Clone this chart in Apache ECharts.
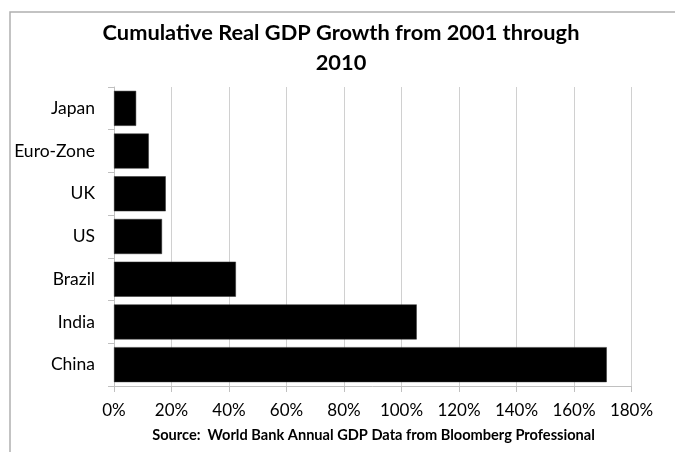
<!DOCTYPE html>
<html><head><meta charset="utf-8">
<script src="https://cdn.jsdelivr.net/npm/echarts@6/dist/echarts.min.js"></script>
<style>html,body{margin:0;padding:0;background:#fff}#c{width:675px;height:452px}</style>
</head><body><div id="c"></div>
<script>
const categories = ["Japan", "Euro-Zone", "UK", "US", "Brazil", "India", "China"];
const growth = [7.7, 12.1, 18.0, 16.7, 42.4, 105.3, 171.4];
const xTicks = [0, 20, 40, 60, 80, 100, 120, 140, 160, 180];
const titleText = "Cumulative Real GDP Growth from 2001 through\n2010";
const sourceText = "Source:  World Bank Annual GDP Data from Bloomberg Professional";

const chart = echarts.init(document.getElementById('c'), null, {renderer: 'canvas'});
const font = 'Lato, "Open Sans", sans-serif';
chart.setOption({
  animation: false,
  backgroundColor: '#fff',
  title: {
    text: titleText, left: 336, top: 13, textAlign: 'center',
    textStyle: {fontFamily: font, fontWeight: 'bold', fontSize: 21.8, color: '#000', lineHeight: 30}
  },
  graphic: [
    {type: 'rect', shape: {x: 10, y: 12, width: 700, height: 460}, style: {fill: 'none', stroke: '#b0b0b0', lineWidth: 1.5}, silent: true},
    {type: 'text', x: 373.5, y: 435, style: {text: sourceText, font: 'bold 14.6px ' + font, fill: '#000', align: 'center', verticalAlign: 'middle'}}
  ],
  grid: {left: 114, right: 43.5, top: 87, bottom: 66},
  xAxis: {
    type: 'value', min: xTicks[0], max: xTicks[xTicks.length - 1], interval: 20,
    axisLine: {show: true, lineStyle: {color: '#c0c0c0', width: 1}},
    axisTick: {show: true, length: 6, lineStyle: {color: '#c0c0c0'}},
    splitLine: {show: true, lineStyle: {color: '#d0d0d0', width: 1}},
    axisLabel: {formatter: v => v + '%', fontFamily: font, fontSize: 17, color: '#000', margin: 16}
  },
  yAxis: {
    type: 'category', data: categories, inverse: true,
    axisLine: {show: true, lineStyle: {color: '#c0c0c0', width: 1}},
    axisTick: {show: true, length: 6, lineStyle: {color: '#c0c0c0'}},
    axisLabel: {fontFamily: font, fontSize: 17.5, color: '#000', margin: 19}
  },
  series: [{
    type: 'bar', data: growth, barCategoryGap: '18%',
    itemStyle: {color: '#000', borderColor: '#333', borderWidth: 0.5}
  }]
});
</script></body></html>
